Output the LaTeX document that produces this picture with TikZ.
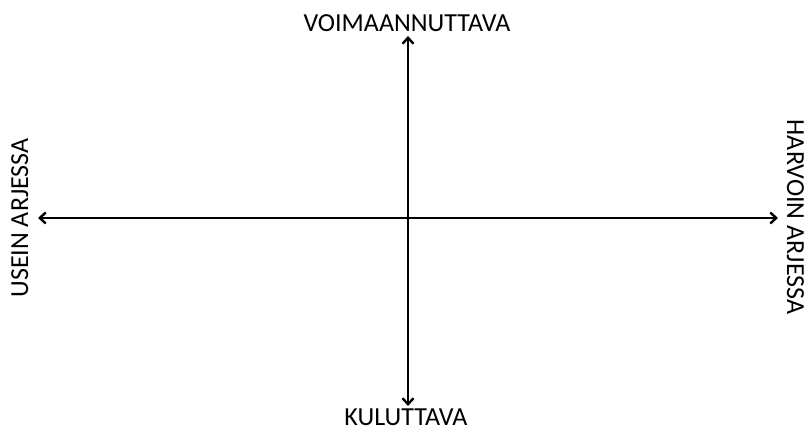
\documentclass[tikz,border=0pt]{standalone}
\usepackage{fontspec}
\setmainfont{Carlito}
\usetikzlibrary{arrows.meta}
\begin{document}
\begin{tikzpicture}[x=1pt,y=-1pt,
  axis/.style={line width=2.2pt,{Straight Barb[length=6pt,width=11pt,line width=2.4pt]}-{Straight Barb[length=6pt,width=11pt,line width=2.4pt]}},
  lbl/.style={font=\fontsize{26}{30}\selectfont,inner sep=0pt,anchor=base}]
\useasboundingbox (0,0) rectangle (806,430);
\coordinate (L) at (38,218);
\coordinate (R) at (778,218);
\coordinate (T) at (408,36);
\coordinate (B) at (408,406);
\draw[axis] (L) -- (R);
\draw[axis] (T) -- (B);
\node[lbl] (top) at (407,32) {VOIMAANNUTTAVA};
\node[lbl] (bot) at (406,425) {KULUTTAVA};
\node[lbl,rotate=90] (left) at (28,218) {USEIN ARJESSA};
\node[lbl,rotate=-90] (right) at (787,217) {HARVOIN ARJESSA};
\end{tikzpicture}
\end{document}
